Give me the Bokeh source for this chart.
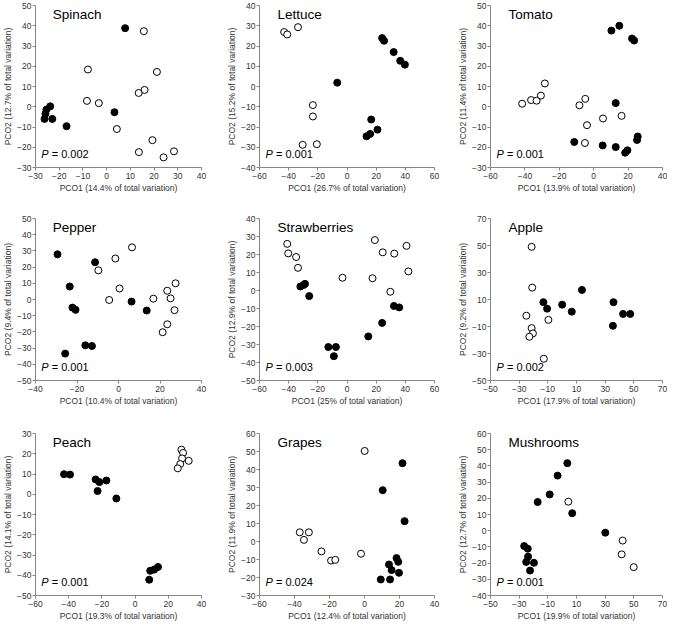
from bokeh.plotting import figure
from bokeh.layouts import column, row
from bokeh.models import Range1d, FixedTicker, Label
from bokeh.embed import file_html
from bokeh.resources import INLINE

# ---------------- data ----------------
spinach_filled_x = [7.8, -23.8, -25.4, -25.8, -26.2, -22.9, -16.9, 3.3]
spinach_filled_y = [38.8, 0.2, -1.4, -3.5, -6.0, -6.0, -9.6, -2.7]
spinach_open_x = [15.7, -7.9, 21.2, 16.0, 13.5, -8.3, -3.3, 4.3, 19.3, 13.6, 28.4, 24.0]
spinach_open_y = [37.3, 18.4, 17.2, 8.3, 6.8, 2.9, 1.8, -11.0, -16.5, -22.4, -22.0, -25.0]

lettuce_filled_x = [24.1, 25.4, 32.0, 36.5, 39.7, -6.7, 16.6, 20.9, 15.9, 13.4]
lettuce_filled_y = [23.9, 22.6, 17.0, 12.7, 10.8, 1.9, -16.3, -21.3, -23.4, -24.6]
lettuce_open_x = [-43.1, -41.0, -33.6, -23.4, -23.4, -30.4, -20.7]
lettuce_open_y = [26.9, 25.7, 29.3, -9.2, -14.8, -28.8, -28.5]

tomato_filled_x = [10.3, 14.9, 22.3, 23.5, 12.8, -11.3, 5.2, 12.8, 19.6, 18.3, 25.6, 25.2]
tomato_filled_y = [37.6, 40.0, 33.7, 32.7, 1.8, -17.4, -19.1, -19.9, -21.5, -22.7, -14.7, -16.4]
tomato_open_x = [-41.6, -36.4, -33.2, -30.7, -28.4, -8.3, -4.9, -3.9, 5.4, 16.2, -5.1]
tomato_open_y = [1.5, 3.3, 3.0, 5.5, 11.5, 0.7, 3.9, -9.1, -5.8, -4.5, -17.9]

pepper_filled_x = [-29.4, -11.3, -23.5, -22.2, -20.7, -16.0, -12.8, -25.7, 6.3, 13.6]
pepper_filled_y = [27.9, 23.0, 8.0, -5.0, -6.4, -28.3, -28.7, -33.4, -1.3, -6.8]
pepper_open_x = [6.5, -1.5, -9.7, 0.5, -4.5, 16.8, 27.5, 23.5, 25.1, 27.0, 23.5, 21.3]
pepper_open_y = [32.2, 25.3, 18.0, 6.8, -0.3, 0.5, 10.0, 5.4, 0.7, -6.6, -15.3, -20.2]

strawberries_filled_x = [-32.0, -29.7, -28.8, -25.9, -12.8, -7.6, -9.0, 14.6, 24.1, 32.2, 35.8]
strawberries_filled_y = [2.2, 3.1, 3.7, -3.1, -31.4, -31.4, -36.5, -25.5, -18.0, -8.6, -9.4]
strawberries_open_x = [-41.0, -40.3, -34.9, -33.6, -3.1, 19.1, 24.5, 32.4, 40.8, 42.1, 17.5, 29.7]
strawberries_open_y = [25.9, 20.6, 18.6, 12.6, 7.1, 28.0, 21.2, 20.5, 24.8, 10.6, 6.8, -0.7]

apple_filled_x = [-13.1, -10.5, 0.0, 6.7, 13.8, 35.8, 35.4, 42.5, 47.5]
apple_filled_y = [8.0, 3.2, 6.2, 1.0, 17.1, 8.0, -9.5, -0.7, -0.7]
apple_open_x = [-21.3, -20.9, -25.0, -9.6, -21.3, -20.4, -22.9, -12.8]
apple_open_y = [49.0, 18.8, -2.0, -5.1, -11.2, -15.1, -17.6, -33.9]

peach_filled_x = [-42.8, -39.2, -23.8, -21.5, -17.3, -22.6, -11.3, 9.1, 8.5, 11.5, 13.8]
peach_filled_y = [9.9, 9.7, 7.3, 6.0, 6.8, 1.6, -2.1, -37.8, -42.2, -37.2, -35.9]
peach_open_x = [27.9, 28.9, 28.3, 32.3, 27.2, 25.7]
peach_open_y = [22.0, 20.4, 17.7, 16.5, 14.9, 12.8]

grapes_filled_x = [21.7, 10.4, 22.9, 18.3, 19.3, 14.0, 15.5, 19.7, 9.3, 14.6]
grapes_filled_y = [43.5, 28.5, 11.3, -9.2, -11.3, -12.8, -15.9, -17.4, -21.1, -21.1]
grapes_open_x = [0.1, -37.0, -31.8, -34.6, -24.6, -19.1, -16.7, -2.0]
grapes_open_y = [50.3, 5.1, 5.1, 0.9, -5.5, -10.6, -10.2, -6.8]

mushrooms_filled_x = [3.6, -3.2, -8.7, -17.1, 7.0, 30.1, -26.5, -24.0, -23.8, -25.1, -19.7, -22.4]
mushrooms_filled_y = [41.7, 34.0, 22.4, 17.7, 10.8, -1.2, -9.5, -11.1, -16.0, -19.3, -19.8, -24.6]
mushrooms_open_x = [4.3, 42.2, 41.5, 49.9]
mushrooms_open_y = [17.9, -6.1, -14.6, -22.5]

names = ["Spinach", "Lettuce", "Tomato", "Pepper", "Strawberries", "Apple",
         "Peach", "Grapes", "Mushrooms"]
x_titles = ["PCO1 (14.4% of total variation)", "PCO1 (26.7% of total variation)",
            "PCO1 (13.9% of total variation)", "PCO1 (10.4% of total variation)",
            "PCO1 (25% of total variation)", "PCO1 (17.9% of total variation)",
            "PCO1 (19.3% of total variation)", "PCO1 (12.4% of total variation)",
            "PCO1 (19.9% of total variation)"]
y_titles = ["PCO2 (12.7% of total variation)", "PCO2 (15.2% of total variation)",
            "PCO2 (11.4% of total variation)", "PCO2 (9.4% of total variation)",
            "PCO2 (12.9% of total variation)", "PCO2 (9.2% of total variation)",
            "PCO2 (14.1% of total variation)", "PCO2 (11.9% of total variation)",
            "PCO2 (12.7% of total variation)"]
p_values = ["0.002", "0.001", "0.001", "0.001", "0.003", "0.002", "0.001", "0.024", "0.001"]

x_ticks = [list(range(-30, 41, 10)), list(range(-60, 61, 20)), list(range(-60, 41, 20)),
           list(range(-40, 41, 20)), list(range(-60, 61, 20)), list(range(-50, 71, 20)),
           list(range(-60, 41, 20)), list(range(-60, 41, 20)), list(range(-50, 71, 20))]
y_ticks = [list(range(-30, 51, 10)), list(range(-40, 41, 10)), list(range(-30, 51, 10)),
           list(range(-50, 51, 10)), list(range(-50, 41, 10)), list(range(-50, 71, 20)),
           list(range(-50, 31, 10)), list(range(-30, 61, 10)), list(range(-40, 61, 10))]

filled = [(spinach_filled_x, spinach_filled_y), (lettuce_filled_x, lettuce_filled_y),
          (tomato_filled_x, tomato_filled_y), (pepper_filled_x, pepper_filled_y),
          (strawberries_filled_x, strawberries_filled_y), (apple_filled_x, apple_filled_y),
          (peach_filled_x, peach_filled_y), (grapes_filled_x, grapes_filled_y),
          (mushrooms_filled_x, mushrooms_filled_y)]
opened = [(spinach_open_x, spinach_open_y), (lettuce_open_x, lettuce_open_y),
          (tomato_open_x, tomato_open_y), (pepper_open_x, pepper_open_y),
          (strawberries_open_x, strawberries_open_y), (apple_open_x, apple_open_y),
          (peach_open_x, peach_open_y), (grapes_open_x, grapes_open_y),
          (mushrooms_open_x, mushrooms_open_y)]

# ---------------- layout geometry ----------------
col_w = [210, 233, 224]
col_left = [28, 49, 47]
col_right = [9, 9, 5]
row_top = [5, 19, 21]
row_bottom = [32, 32, 28]
frame_h = 162

FONT = "Liberation Sans"
AXIS_COLOR = "#868686"
TEXT_COLOR = "#333333"


def make_panel(i):
    r, c = divmod(i, 3)
    h = row_top[r] + frame_h + row_bottom[r]
    fw = col_w[c] - col_left[c] - col_right[c]
    xt, yt = x_ticks[i], y_ticks[i]
    x0, x1 = xt[0], xt[-1]
    y0, y1 = yt[0], yt[-1]
    p = figure(width=col_w[c], height=h, output_backend="svg", toolbar_location=None,
               x_range=Range1d(x0, x1), y_range=Range1d(y0, y1),
               min_border_left=col_left[c], min_border_right=col_right[c],
               min_border_top=row_top[r], min_border_bottom=row_bottom[r],
               x_axis_label=x_titles[i], y_axis_label=y_titles[i])
    p.outline_line_color = None
    p.grid.visible = False
    p.background_fill_color = "white"
    p.border_fill_color = "white"
    for ax, ticks in ((p.xaxis[0], xt), (p.yaxis[0], yt)):
        ax.ticker = FixedTicker(ticks=ticks)
        ax.minor_tick_line_color = None
        ax.major_tick_out = 3
        ax.major_tick_in = 0
        ax.axis_line_color = AXIS_COLOR
        ax.major_tick_line_color = AXIS_COLOR
        ax.major_label_text_font = FONT
        ax.major_label_text_font_size = "8.5px"
        ax.major_label_text_color = TEXT_COLOR
        ax.axis_label_text_font = FONT
        ax.axis_label_text_font_size = "8.5px"
        ax.axis_label_text_font_style = "normal"
        ax.axis_label_text_color = TEXT_COLOR
        ax.major_label_standoff = 1
        ax.axis_label_standoff = 1
    p.xaxis[0].major_label_standoff = 2

    fx, fy = filled[i]
    ox, oy = opened[i]
    p.scatter(ox, oy, marker="circle", size=7, fill_color="white",
              line_color="black", line_width=1)
    p.scatter(fx, fy, marker="circle", size=7, fill_color="black",
              line_color="black", line_width=1)

    xr = x1 - x0
    yr = y1 - y0
    p.add_layout(Label(x=x0 + 18.0 / fw * xr, y=y1 - 1.0 / frame_h * yr, text=names[i],
                       text_font=FONT, text_font_size="13.5px", text_color="black",
                       text_align="left", text_baseline="top"))
    px = x0 + 6.0 / fw * xr
    py = y0 + 14.0 / frame_h * yr
    p.add_layout(Label(x=px, y=py, text="P", text_font=FONT, text_font_size="11px",
                       text_font_style="italic", text_color="black",
                       text_align="left", text_baseline="middle"))
    p.add_layout(Label(x=px, y=py, x_offset=10.4, text="= " + p_values[i], text_font=FONT,
                       text_font_size="11px", text_color="black",
                       text_align="left", text_baseline="middle"))
    return p


panels = [make_panel(i) for i in range(9)]
layout = column(row(*panels[0:3]), row(*panels[3:6]), row(*panels[6:9]))

open("out.html", "w").write(file_html(layout, INLINE))
